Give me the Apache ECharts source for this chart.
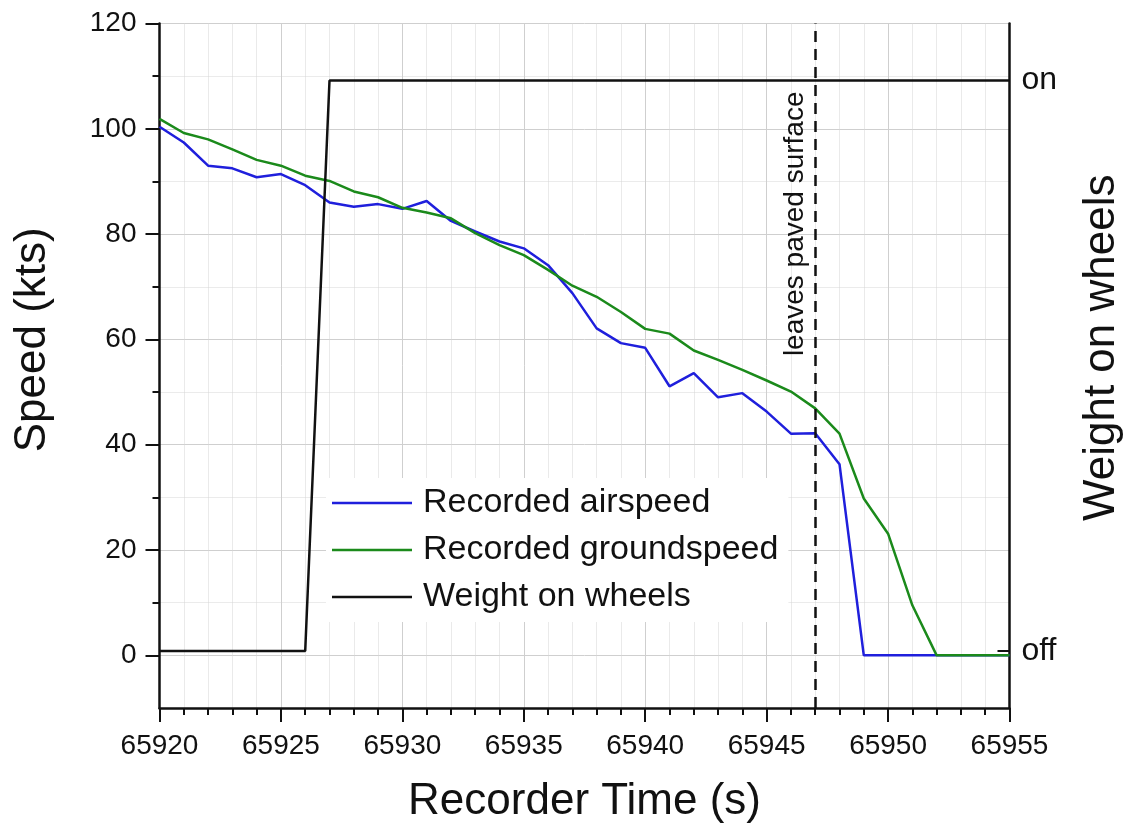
<!DOCTYPE html>
<html lang="en">
<head>
    <meta charset="utf-8" />
    <title>Recorded speed</title>
    <script src="https://cdn.jsdelivr.net/npm/echarts@6/dist/echarts.min.js"></script>
</head>
<body style="margin:0;background:#fff;overflow:hidden">
    <div id="box" style="height:827px;width:1127px"></div>
    <script>
        // recorder time (s)
        var times = [65920,65921,65922,65923,65924,65925,65926,65927,65928,65929,
                     65930,65931,65932,65933,65934,65935,65936,65937,65938,65939,
                     65940,65941,65942,65943,65944,65945,65946,65947,65948,65949,
                     65950,65951,65952,65953,65954,65955];
        var airspeed = [100.4,97.4,93.0,92.5,90.8,91.4,89.3,86.0,85.2,85.7,
                        84.8,86.3,82.5,80.5,78.6,77.3,74.1,68.8,62.1,59.3,
                        58.4,51.1,53.6,49.0,49.8,46.3,42.1,42.2,36.3,0,
                        0,0,0,0,0,0];
        var groundspeed = [101.9,99.2,98.0,96.1,94.1,93.0,91.1,90.1,88.1,87.0,
                           85.0,84.1,83.0,80.2,77.9,76.0,73.2,70.2,68.1,65.2,
                           62.0,61.1,57.9,56.1,54.2,52.2,50.1,46.9,42.1,29.8,
                           23.1,9.5,0,0,0,0];
        // 0 = off, 1 = on
        var wowTimes = [65920, 65926, 65927, 65955];
        var wow = [0, 0, 1, 1];
        var speedTicks = [0, 20, 40, 60, 80, 100, 120];
        var speedMinor = [10, 30, 50, 70, 90, 110];
        var leavePaved = 65947;

        function pairs(xs, ys) {
            return xs.map(function (x, i) { return [x, ys[i]]; });
        }

        var font = '"Liberation Sans", Arial, sans-serif';
        var myChart = echarts.init(document.getElementById("box"));
        var option = {
            animation: false,
            textStyle: {fontFamily: font, color: '#111'},
            grid: {left: 159.5, right: 117.5, top: 23.5, bottom: 119, containLabel: false, outerBoundsMode: 'none'},
            legend: {
                orient: 'vertical',
                left: 326,
                top: 478,
                icon: 'rect',
                itemWidth: 80,
                itemHeight: 2.5,
                itemGap: 13,
                padding: [8, 10, 8, 6],
                backgroundColor: '#fff',
                textStyle: {fontSize: 34, lineHeight: 34, color: '#111', padding: [0, 0, 0, 6]},
                data: ['Recorded airspeed', 'Recorded groundspeed', 'Weight on wheels']
            },
            xAxis: {
                type: 'value',
                min: 65920,
                max: 65955,
                interval: 5,
                name: 'Recorder Time (s)',
                nameLocation: 'middle',
                nameGap: 72,
                nameTextStyle: {fontSize: 44, color: '#111'},
                axisLine: {onZero: false, lineStyle: {color: '#111', width: 2.5}},
                axisTick: {length: 14, lineStyle: {color: '#111', width: 2}},
                minorTick: {show: true, splitNumber: 5, length: 7, lineStyle: {color: '#111', width: 2}},
                axisLabel: {fontSize: 28, margin: 24, color: '#111', formatter: function (v) { return String(v); }},
                splitLine: {show: true, lineStyle: {color: '#cfcfcf', width: 1}},
                minorSplitLine: {show: true, lineStyle: {color: '#d6d6d6', width: 1, type: 'dotted'}}
            },
            yAxis: [
                {
                    type: 'value',
                    min: -10,
                    max: 120,
                    position: 'left',
                    name: 'Speed (kts)',
                    nameLocation: 'middle',
                    nameGap: 105,
                    nameTextStyle: {fontSize: 44, color: '#111', padding: [0, 0, 0, 52]},
                    axisLine: {show: true, onZero: false, lineStyle: {color: '#111', width: 2.5}},
                    axisTick: {show: true, length: 14, customValues: speedTicks, lineStyle: {color: '#111', width: 2}},
                    axisLabel: {fontSize: 28, margin: 23, color: '#111', customValues: speedTicks},
                    splitLine: {show: true, lineStyle: {color: '#cfcfcf', width: 1}}
                },
                {
                    type: 'value',
                    min: -10,
                    max: 120,
                    position: 'left',
                    axisLine: {show: false},
                    axisTick: {show: true, length: 7, customValues: speedMinor, lineStyle: {color: '#111', width: 2}},
                    axisLabel: {show: false},
                    splitLine: {show: true, lineStyle: {color: '#d6d6d6', width: 1, type: 'dotted'}}
                },
                {
                    type: 'value',
                    min: -0.1,
                    max: 1.1,
                    position: 'right',
                    name: 'Weight on wheels',
                    nameLocation: 'middle',
                    nameGap: 70,
                    nameTextStyle: {fontSize: 44, color: '#111', padding: [0, 0, 0, 36]},
                    axisLine: {show: true, onZero: false, lineStyle: {color: '#111', width: 2.5}},
                    axisTick: {show: true, inside: true, length: 12, customValues: [0], lineStyle: {color: '#111', width: 2}},
                    axisLabel: {
                        fontSize: 32, margin: 12, color: '#111', customValues: [0, 1],
                        formatter: function (v) { return v === 1 ? 'on' : (v === 0 ? 'off' : ''); }
                    },
                    splitLine: {show: false}
                }
            ],
            series: [
                {
                    name: 'Recorded airspeed',
                    type: 'line',
                    yAxisIndex: 0,
                    symbol: 'none',
                    lineStyle: {color: '#1f1fdc', width: 2.5},
                    itemStyle: {color: '#1f1fdc'},
                    data: pairs(times, airspeed)
                },
                {
                    name: 'Recorded groundspeed',
                    type: 'line',
                    yAxisIndex: 0,
                    symbol: 'none',
                    lineStyle: {color: '#1b8a1b', width: 2.5},
                    itemStyle: {color: '#1b8a1b'},
                    data: pairs(times, groundspeed),
                    markLine: {
                        silent: true,
                        symbol: 'none',
                        lineStyle: {color: '#111', width: 2.5, type: [11, 7]},
                        label: {
                            show: true,
                            position: 'insideEndTop',
                            formatter: 'leaves paved surface',
                            fontSize: 28,
                            color: '#111',
                            distance: [68, 6]
                        },
                        data: [{xAxis: leavePaved}]
                    }
                },
                {
                    name: 'Weight on wheels',
                    type: 'line',
                    yAxisIndex: 2,
                    symbol: 'none',
                    lineStyle: {color: '#111', width: 2.5},
                    itemStyle: {color: '#111'},
                    data: pairs(wowTimes, wow)
                }
            ]
        };
        myChart.setOption(option);
    </script>
</body>
</html>
